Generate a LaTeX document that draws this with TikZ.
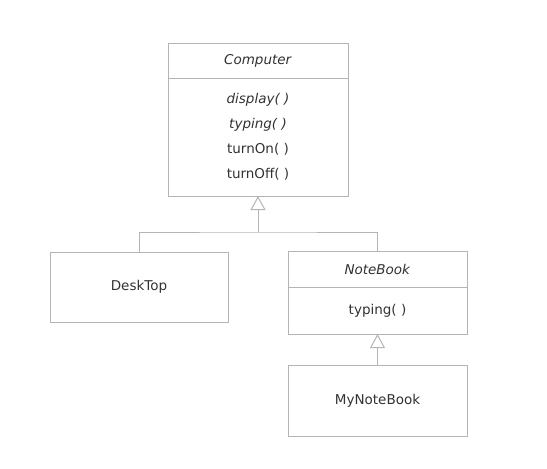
\documentclass[tikz,border=0pt]{standalone}
\usepackage{fontspec}
\setmainfont{DejaVu Sans}
\usetikzlibrary{arrows.meta}
\usetikzlibrary{positioning}

\definecolor{umlline}{RGB}{180,180,180}
\definecolor{umltext}{RGB}{50,50,50}

\tikzset{
  classbox/.style={draw=umlline, line width=1pt, text=umltext, minimum width=#1,
    inner sep=0pt, outer sep=0pt, align=center, font=\fontsize{13.5}{25}\selectfont},
  classbox/.default=180pt,
  gen/.style={draw=umlline, line width=1pt,
    -{Triangle[open, width=15pt, length=14pt]}}
}

\begin{document}
\begin{tikzpicture}[x=1pt, y=-1pt]
  \useasboundingbox (0,0) rectangle (547,469);
  % Computer class
  \node[classbox, minimum height=35pt] (computer) at (258,60.5) {\textit{Computer}};
  \node[classbox, minimum height=118pt, below=0pt of computer]
    (computerops) {\textit{display( )}\\\textit{typing( )}\\turnOn( )\\turnOff( )};
  % subclasses
  \node[classbox=178pt, minimum height=70pt] (desktop) at (139,287) {DeskTop};
  \node[classbox=179pt, minimum height=36pt] (notebook) at (377.5,269) {\textit{NoteBook}};
  \node[classbox=179pt, minimum height=47pt, below=0pt of notebook]
    (notebookops) {typing( )};
  \node[classbox=179pt, minimum height=71pt] (mynotebook) at (377.5,400.5) {MyNoteBook};
  % generalisation
  \coordinate (fork) at (258,232);
  \draw[gen] (fork) -- (computerops.south);
  \draw[draw=umlline, line width=1pt] (desktop.north) |- (fork) -| (notebook.north);
  \draw[gen] (mynotebook.north) -- (notebookops.south);
\end{tikzpicture}
\end{document}
